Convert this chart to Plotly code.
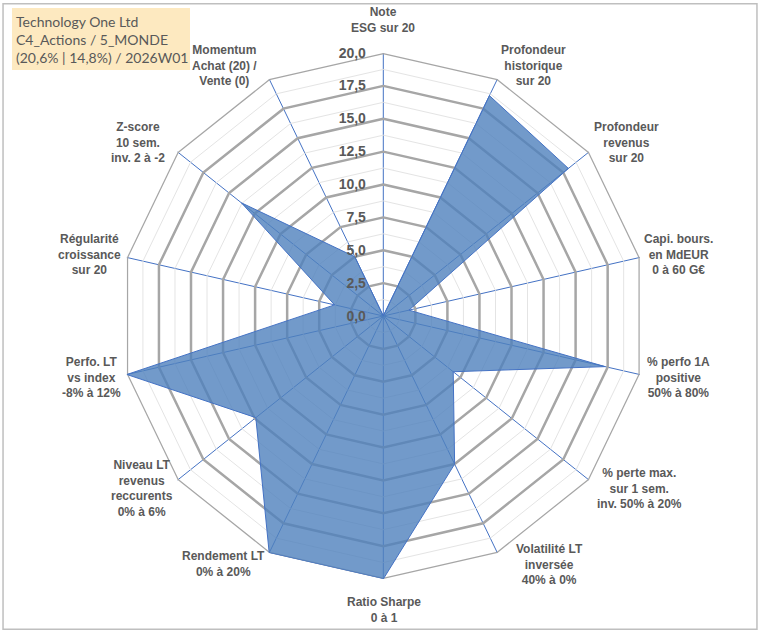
"""Radar chart of the stock scoring criteria for one company (Excel-style spider chart)."""

import plotly.graph_objects as go

TITLE_LINES = ["Technology One Ltd", "C4_Actions / 5_MONDE", "(20,6% | 14,8%) / 2026W01"]

categories = [
    "Note<br>ESG sur 20",
    "Profondeur<br>historique<br>sur 20",
    "Profondeur<br>revenus<br>sur 20",
    "Capi. bours.<br>en MdEUR<br>0 à 60 G€",
    "% perfo 1A<br>positive<br>50% à 80%",
    "% perte max.<br>sur 1 sem.<br>inv. 50% à 20%",
    "Volatilité LT<br>inversée<br>40% à 0%",
    "Ratio Sharpe<br>0 à 1",
    "Rendement LT<br>0% à 20%",
    "Niveau LT<br>revenus<br>reccurents<br>0% à 6%",
    "Perfo. LT<br>vs index<br>-8% à 12%",
    "Régularité<br>croissance<br>sur 20",
    "Z-score<br>10 sem.<br>inv. 2 à -2",
    "Momentum<br>Achat (20) /<br>Vente (0)",
]
scores = [0.0, 18.6, 18.0, 2.0, 17.3, 6.8, 12.5, 20.0, 20.0, 12.4, 20.0, 3.8, 13.8, 5.0]

major_ticks = [0, 2.5, 5, 7.5, 10, 12.5, 15, 17.5, 20]
minor_ticks = [1.25, 3.75, 6.25, 8.75, 11.25, 13.75, 16.25, 18.75]

# where Excel put each category label (pixel centre of the text block)
LABEL_XY = [
    (383, 20), (533, 66), (626, 143), (678, 254), (678, 377), (639, 488), (549, 564),
    (384, 610), (223, 564), (142, 488), (91, 377), (89, 254), (138, 143), (225, 66),
]

W, H = 760, 633
GREY_TEXT = "#595959"
BLUE = "#4472C4"

all_ticks = sorted(major_ticks + minor_ticks)
tick_text = [f"{t:.1f}".replace(".", ",") if t in major_ticks else "" for t in all_ticks]

theta = categories + [categories[0]]

fig = go.Figure()

# heavy grey rings every 2.5 (the light ones come from the axis grid)
for level in major_ticks[1:]:
    fig.add_trace(
        go.Scatterpolar(
            r=[level] * len(theta),
            theta=theta,
            mode="lines",
            line={"color": "#a6a6a6", "width": 2.5},
            hoverinfo="skip",
        )
    )

fig.add_trace(
    go.Scatterpolar(
        r=scores + [scores[0]],
        theta=theta,
        mode="lines",
        fill="toself",
        fillcolor="rgba(79,129,189,0.8)",
        line={"color": BLUE, "width": 1},
        name="Score",
    )
)

label_font = {"family": "Liberation Sans", "size": 12, "color": GREY_TEXT, "weight": "bold"}
annotations = [
    {
        "text": label,
        "xref": "paper", "yref": "paper",
        "x": x / W, "y": 1 - y / H,
        "xanchor": "center", "yanchor": "middle",
        "align": "center", "showarrow": False,
        "font": label_font,
    }
    for label, (x, y) in zip(categories, LABEL_XY)
]
annotations.append(
    {
        "text": "<br>".join(TITLE_LINES),
        "xref": "paper", "yref": "paper",
        "x": 14 / W, "y": 1 - 11 / H,
        "xanchor": "left", "yanchor": "top",
        "align": "left", "showarrow": False,
        "font": {"family": "Lato", "size": 14, "color": GREY_TEXT},
    }
)

fig.update_layout(
    width=W,
    height=H,
    margin={"l": 0, "r": 0, "t": 0, "b": 0},
    paper_bgcolor="white",
    showlegend=False,
    polar={
        "domain": {"x": [0.1583, 0.8504], "y": [0.0853, 0.9163]},
        "bgcolor": "white",
        "gridshape": "linear",
        "radialaxis": {
            "range": [0, 20],
            "angle": 90,
            "tickangle": 90,
            "side": "counterclockwise",
            "tickvals": all_ticks,
            "ticktext": tick_text,
            "gridcolor": "#e4e4e4",
            "gridwidth": 1,
            "showline": False,
            "ticks": "outside",
            "ticklen": 12,
            "tickcolor": "rgba(0,0,0,0)",
            "tickfont": {"family": "Liberation Sans", "size": 14, "color": GREY_TEXT, "weight": "bold"},
        },
        "angularaxis": {
            "direction": "clockwise",
            "rotation": 90,
            "gridcolor": BLUE,
            "gridwidth": 1,
            "showline": False,
            "showticklabels": False,
            "ticks": "",
        },
    },
    shapes=[
        {
            "type": "rect", "xref": "paper", "yref": "paper",
            "x0": 0.004, "x1": 0.996, "y0": 0.006, "y1": 0.994,
            "line": {"color": "#bfbfbf", "width": 1.5},
        },
        {
            "type": "rect", "xref": "paper", "yref": "paper",
            "x0": 12 / W, "x1": 190 / W, "y0": 1 - 70 / H, "y1": 1 - 8 / H,
            "fillcolor": "#fde9c0", "line": {"width": 0}, "layer": "below",
        },
    ],
    annotations=annotations,
)

# the default page keeps the browser's 8px body margin; drop it so the figure sits at 0,0
fig.write_html(
    "out.html",
    config={"displayModeBar": False},
    post_script="document.body.style.margin = '0';",
)
